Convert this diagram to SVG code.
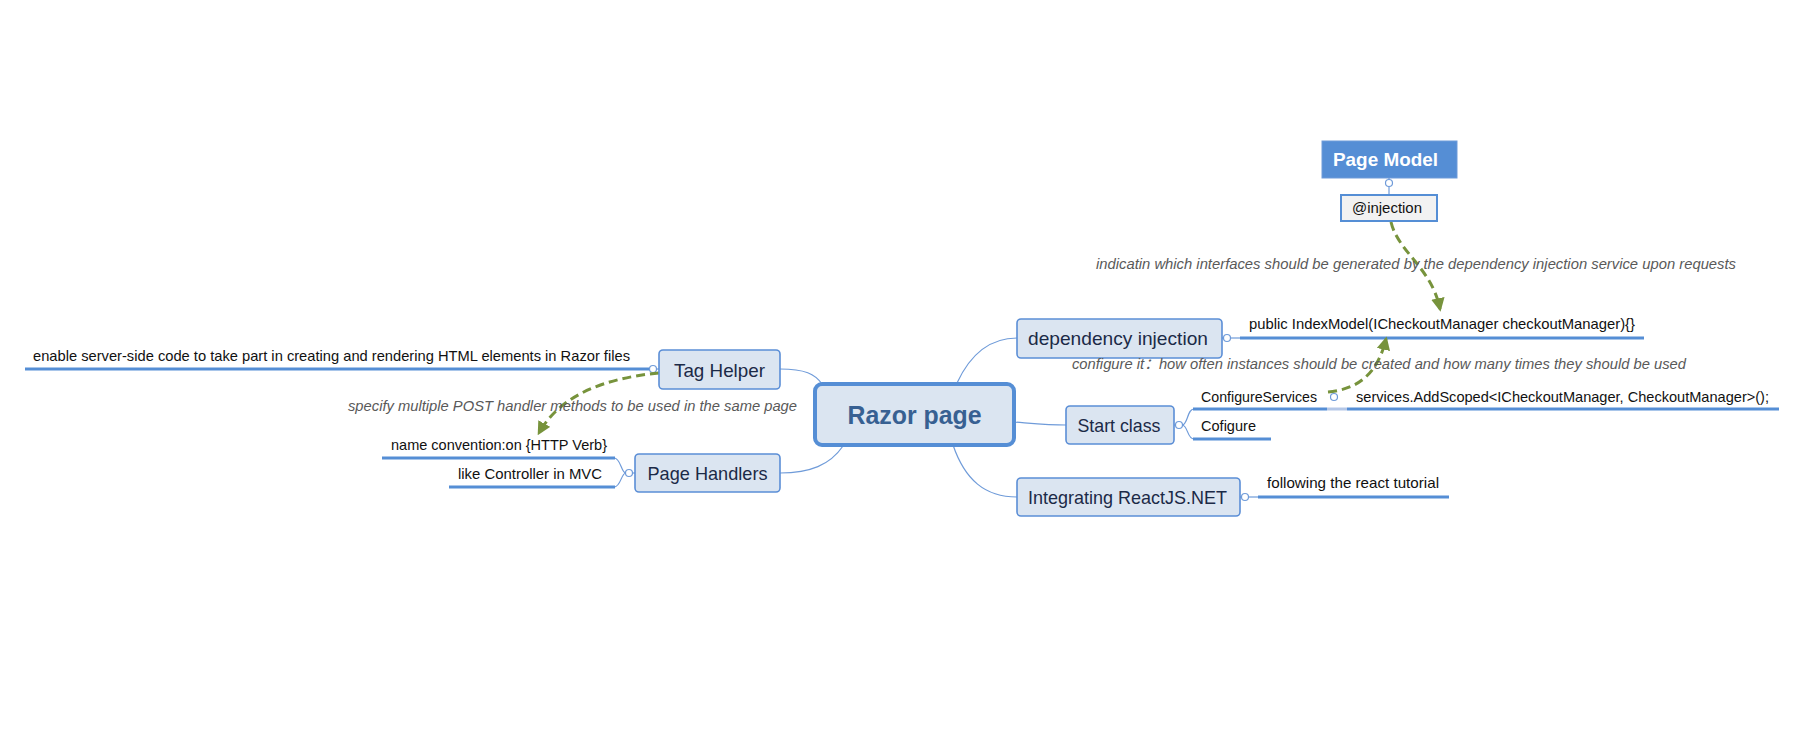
<svg xmlns="http://www.w3.org/2000/svg" width="1819" height="753" viewBox="0 0 1819 753">
<style>
text{font-family:"Liberation Sans","Noto Sans","Noto Sans CJK SC",sans-serif}
.box{fill:#dbe5f1;stroke:#5b8ed6;stroke-width:1.6}
.nt{font-size:19px;fill:#1b2a47;text-anchor:middle}
.st{font-size:15px;fill:#111}
.lbl{font-size:15px;fill:#595959;font-style:italic}
.ul{stroke:#558ed5;stroke-width:3;fill:none}
.cn{stroke:#6f9bd9;stroke-width:1.2;fill:none}
.btn{fill:#fff;stroke:#6f9bd9;stroke-width:1.2}
.rel{stroke:#77933c;stroke-width:3;fill:none;stroke-dasharray:9 5}
</style>
<defs>
<marker id="ah" viewBox="0 0 10 10" refX="8" refY="5" markerWidth="4.5" markerHeight="4.5" orient="auto" markerUnits="strokeWidth">
<path d="M0,0 L10,5 L0,10 z" fill="#77933c"/>
</marker>
</defs>
<rect width="1819" height="753" fill="#fff"/>
<g id="connectors">
<path class="cn" d="M780,369 C805,369 815,374 822,384"/>
<path class="cn" d="M843,446 C830,465 810,473 780,473"/>
<path class="cn" d="M957,383 C970,355 990,338 1017,338"/>
<path class="cn" d="M1014,422 C1040,424 1050,425 1066,425"/>
<path class="cn" d="M953,445 C965,480 985,497 1017,497"/>
<path class="cn" d="M650,369 H659"/>
<path class="cn" d="M1222,338 H1240"/>
<path class="cn" d="M1240,497 H1258"/>
<path class="cn" d="M1389,178 V195"/>
<path class="cn" d="M632,473 H635"/>
<path class="cn" d="M626,473 C621,473 621,458 614,458"/>
<path class="cn" d="M626,473 C621,473 621,487 614,487"/>
<path class="cn" d="M1174,425 H1176"/>
<path class="cn" d="M1182,425 C1188,425 1187,409 1194,409"/>
<path class="cn" d="M1182,425 C1188,425 1187,439 1194,439"/>
<path d="M1327,409 H1347" stroke="#b4c7e7" stroke-width="3" fill="none"/>
<path class="ul" d="M25,369 H650"/>
<path class="ul" d="M382,458 H615"/>
<path class="ul" d="M449,487 H615"/>
<path class="ul" d="M1240,338 H1644"/>
<path class="ul" d="M1193,409 H1327"/>
<path class="ul" d="M1193,439 H1271"/>
<path class="ul" d="M1347,409 H1779"/>
<path class="ul" d="M1258,497 H1449"/>
<circle class="btn" cx="653" cy="369" r="3.5"/>
<circle class="btn" cx="629" cy="473" r="3.5"/>
<circle class="btn" cx="1227" cy="338" r="3.5"/>
<circle class="btn" cx="1179" cy="425" r="3.5"/>
<circle class="btn" cx="1334" cy="397" r="3.5"/>
<circle class="btn" cx="1245" cy="497" r="3.5"/>
<circle class="btn" cx="1389" cy="183" r="3.5"/>
<path class="rel" d="M659,373 C605,378 560,395 539,433" marker-end="url(#ah)"/>
<path class="rel" d="M1391,222 C1398,252 1432,268 1440,309" marker-end="url(#ah)"/>
<path class="rel" d="M1328,392 C1360,389 1378,372 1386,339" marker-end="url(#ah)"/>
</g>
<g id="razor">
<rect x="815" y="384" width="199" height="61" rx="7" fill="#dbe5f1" stroke="#558ed5" stroke-width="4"/>
<text x="914.5" y="424" font-size="26" font-weight="bold" fill="#376092" text-anchor="middle" textLength="134" lengthAdjust="spacingAndGlyphs">Razor page</text>
</g>
<g id="tag-helper">
<rect class="box" x="659" y="350" width="121" height="39" rx="4"/>
<text class="nt" x="719.5" y="377" textLength="91" lengthAdjust="spacingAndGlyphs">Tag Helper</text>
</g>
<g id="tag-helper-desc">
<text class="st" x="33" y="361" textLength="597" lengthAdjust="spacingAndGlyphs">enable server-side code to take part in creating and rendering HTML elements in Razor files</text>
</g>
<g id="page-handlers">
<rect class="box" x="635" y="454" width="145" height="38" rx="4"/>
<text class="nt" x="707.5" y="480" textLength="120" lengthAdjust="spacingAndGlyphs">Page Handlers</text>
</g>
<g id="name-convention">
<text class="st" x="391" y="450" textLength="216" lengthAdjust="spacingAndGlyphs">name convention:on {HTTP Verb}</text>
</g>
<g id="like-controller">
<text class="st" x="458" y="479" textLength="144" lengthAdjust="spacingAndGlyphs">like Controller in MVC</text>
</g>
<g id="label-post">
<text class="lbl" x="348" y="411" textLength="449" lengthAdjust="spacingAndGlyphs">specify multiple POST handler methods to be used in the same page</text>
</g>
<g id="dependency-injection">
<rect class="box" x="1017" y="319" width="205" height="39" rx="4"/>
<text class="nt" x="1118" y="345" textLength="180" lengthAdjust="spacingAndGlyphs">dependency injection</text>
</g>
<g id="index-model">
<text class="st" x="1249" y="329" textLength="386" lengthAdjust="spacingAndGlyphs">public IndexModel(ICheckoutManager checkoutManager){}</text>
</g>
<g id="label-configure">
<text class="lbl" x="1072" y="369" textLength="614" lengthAdjust="spacingAndGlyphs">configure it：how often instances should be created and how many times they should be used</text>
</g>
<g id="start-class">
<rect class="box" x="1066" y="406" width="108" height="38" rx="4"/>
<text class="nt" x="1119" y="432" textLength="83" lengthAdjust="spacingAndGlyphs">Start class</text>
</g>
<g id="configure-services">
<text class="st" x="1201" y="402" textLength="116" lengthAdjust="spacingAndGlyphs">ConfigureServices</text>
</g>
<g id="add-scoped">
<text class="st" x="1356" y="402" textLength="413" lengthAdjust="spacingAndGlyphs">services.AddScoped&lt;ICheckoutManager, CheckoutManager&gt;();</text>
</g>
<g id="cofigure">
<text class="st" x="1201" y="431" textLength="55" lengthAdjust="spacingAndGlyphs">Cofigure</text>
</g>
<g id="integrating">
<rect class="box" x="1017" y="478" width="223" height="38" rx="4"/>
<text class="nt" x="1127.5" y="504" textLength="199" lengthAdjust="spacingAndGlyphs">Integrating ReactJS.NET</text>
</g>
<g id="react-tutorial">
<text class="st" x="1267" y="488" textLength="172" lengthAdjust="spacingAndGlyphs">following the react tutorial</text>
</g>
<g id="page-model">
<rect x="1322" y="141" width="135" height="37" fill="#558ed5" stroke="#6f9bd9" stroke-width="1"/>
<text x="1385.5" y="166" font-size="19" font-weight="bold" fill="#fff" text-anchor="middle" textLength="105" lengthAdjust="spacingAndGlyphs">Page Model</text>
</g>
<g id="injection">
<rect x="1341" y="195" width="96" height="26" fill="#f2f2f2" stroke="#558ed5" stroke-width="2"/>
<text x="1352" y="213" font-size="15" fill="#111" textLength="70" lengthAdjust="spacingAndGlyphs">@injection</text>
</g>
<g id="label-indicatin">
<text class="lbl" x="1096" y="269" textLength="640" lengthAdjust="spacingAndGlyphs">indicatin which interfaces should be generated by the dependency injection service upon requests</text>
</g>
</svg>
